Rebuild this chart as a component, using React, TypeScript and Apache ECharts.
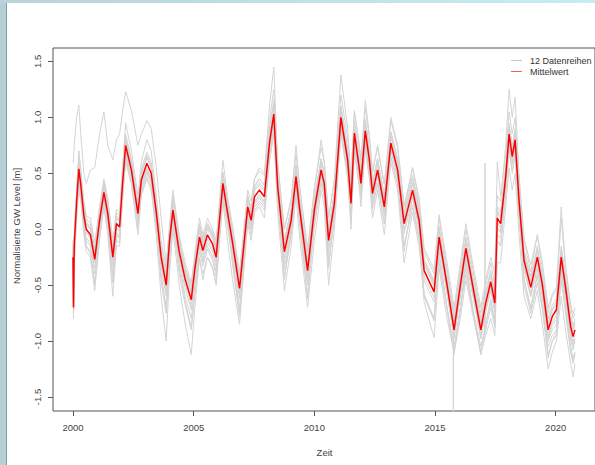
import React, { useEffect, useRef } from "react";
import * as echarts from "echarts";

const years = [
  2000.00, 2000.02, 2000.05, 2000.15, 2000.24, 2000.32, 2000.45, 2000.55, 2000.72, 2000.90,
  2001.10, 2001.28, 2001.44, 2001.65, 2001.80, 2001.93, 2002.05, 2002.18, 2002.42, 2002.69,
  2002.83, 2003.06, 2003.24, 2003.45, 2003.65, 2003.86, 2004.00, 2004.14, 2004.40, 2004.65,
  2004.90, 2005.05, 2005.24, 2005.38, 2005.57, 2005.78, 2005.93, 2006.21, 2006.40, 2006.61,
  2006.90, 2007.10, 2007.24, 2007.38, 2007.52, 2007.72, 2007.93, 2008.14, 2008.32, 2008.48,
  2008.76, 2009.04, 2009.24, 2009.38, 2009.72, 2010.00, 2010.28, 2010.41, 2010.59, 2010.83,
  2011.10, 2011.38, 2011.52, 2011.66, 2011.87, 2011.93, 2012.11, 2012.28, 2012.41, 2012.62,
  2012.90, 2013.17, 2013.45, 2013.72, 2014.07, 2014.34, 2014.55, 2014.96, 2015.17, 2015.50,
  2015.79, 2016.05, 2016.28, 2016.60, 2016.90, 2017.10, 2017.31, 2017.48, 2017.58, 2017.72,
  2017.93, 2018.07, 2018.20, 2018.32, 2018.48, 2018.69, 2018.97, 2019.24, 2019.45, 2019.69,
  2019.86, 2020.03, 2020.23, 2020.41, 2020.62, 2020.72, 2020.80,
];

const meanValues = [
  -0.25, -0.70, -0.15, 0.25, 0.54, 0.40, 0.12, 0.00, -0.05, -0.27,
  0.08, 0.33, 0.14, -0.25, 0.05, 0.02, 0.40, 0.75, 0.53, 0.14,
  0.44, 0.59, 0.50, 0.15, -0.25, -0.50, -0.10, 0.17, -0.20, -0.45,
  -0.63, -0.35, -0.07, -0.19, -0.05, -0.13, -0.25, 0.41, 0.15, -0.12,
  -0.53, -0.10, 0.20, 0.08, 0.29, 0.35, 0.29, 0.77, 1.03, 0.38,
  -0.20, 0.08, 0.47, 0.20, -0.37, 0.17, 0.53, 0.41, -0.10, 0.23,
  1.00, 0.62, 0.23, 0.86, 0.53, 0.41, 0.88, 0.62, 0.32, 0.53,
  0.20, 0.77, 0.53, 0.05, 0.35, 0.08, -0.37, -0.56, -0.07, -0.50,
  -0.90, -0.50, -0.17, -0.55, -0.90, -0.66, -0.47, -0.66, 0.10, 0.05,
  0.47, 0.85, 0.65, 0.80, 0.26, -0.28, -0.52, -0.25, -0.50, -0.90,
  -0.78, -0.72, -0.25, -0.52, -0.87, -0.96, -0.90,
];

const series01 = [
  0.59, 0.62, 0.75, 1.00, 1.11, 0.85, 0.50, 0.41, 0.53, 0.55,
  0.85, 1.05, 0.75, 0.62, 0.80, 0.85, 1.05, 1.23, 1.06, 0.75,
  0.85, 0.97, 0.90, 0.55, 0.10, -0.30, 0.00, 0.30, -0.10, -0.35,
  -0.50, -0.25, 0.05, -0.08, 0.05, -0.03, -0.15, 0.50, 0.25, -0.02,
  -0.45, 0.00, 0.30, 0.18, 0.38, 0.45, 0.40, 0.90, 1.15, 0.50,
  -0.10, 0.18, 0.58, 0.30, -0.27, 0.27, 0.63, 0.50, 0.00, 0.33,
  1.10, 0.72, 0.33, 0.95, 0.63, 0.50, 0.98, 0.72, 0.42, 0.63,
  0.30, 0.87, 0.63, 0.15, 0.45, 0.18, -0.27, -0.46, 0.03, -0.40,
  -0.80, -0.40, -0.07, -0.45, -0.80, -0.56, -0.37, -0.56, 0.20, 0.15,
  0.57, 0.95, 0.75, 0.90, 0.36, -0.18, -0.42, -0.15, -0.40, -0.80,
  -0.68, -0.62, -0.15, -0.42, -0.77, -0.86, -0.80,
];

const series02 = [
  -0.10, -0.50, 0.00, 0.35, 0.70, 0.55, 0.25, 0.12, 0.10, -0.12,
  0.20, 0.45, 0.28, -0.10, 0.18, 0.15, 0.55, 0.95, 0.70, 0.30,
  0.60, 0.80, 0.70, 0.30, -0.10, -0.35, 0.05, 0.35, -0.05, -0.30,
  -0.48, -0.20, 0.10, -0.05, 0.10, 0.00, -0.10, 0.62, 0.30, 0.03,
  -0.38, 0.05, 0.35, 0.25, 0.45, 0.55, 0.50, 1.10, 1.45, 0.60,
  0.00, 0.25, 0.75, 0.40, -0.20, 0.35, 0.80, 0.60, 0.10, 0.45,
  1.38, 0.90, 0.45, 1.05, 0.75, 0.60, 1.15, 0.85, 0.50, 0.75,
  0.40, 1.00, 0.75, 0.20, 0.55, 0.25, -0.20, -0.40, 0.10, -0.35,
  -0.75, -0.35, 0.00, -0.40, -0.75, -0.50, -0.30, -0.50, 0.30, 0.25,
  0.75, 1.25, 1.00, 1.18, 0.50, -0.10, -0.38, -0.05, -0.35, -0.75,
  -0.60, -0.55, 0.10, -0.35, -0.70, -0.80, -0.75,
];

const series03 = [
  -0.35, -0.75, -0.30, 0.10, 0.35, 0.25, -0.05, -0.20, -0.25, -0.55,
  -0.10, 0.20, -0.05, -0.60, -0.15, -0.15, 0.25, 0.60, 0.40, -0.05,
  0.30, 0.45, 0.35, -0.05, -0.60, -1.00, -0.40, 0.00, -0.50, -0.85,
  -1.12, -0.70, -0.25, -0.45, -0.25, -0.35, -0.50, 0.25, -0.10, -0.45,
  -0.85, -0.30, 0.05, -0.10, 0.15, 0.20, 0.10, 0.60, 0.85, 0.15,
  -0.55, -0.15, 0.30, -0.05, -0.70, -0.10, 0.35, 0.20, -0.50, 0.00,
  0.85, 0.45, 0.00, 0.70, 0.35, 0.20, 0.70, 0.45, 0.10, 0.35,
  -0.05, 0.60, 0.35, -0.30, 0.15, -0.15, -0.60, -0.80, -0.25, -0.70,
  -1.05, -0.70, -0.35, -0.75, -1.05, -0.85, -0.65, -0.85, -0.10, -0.15,
  0.30, 0.70, 0.50, 0.65, 0.10, -0.45, -0.70, -0.40, -0.70, -1.05,
  -0.95, -0.90, -0.40, -0.70, -1.05, -1.15, -1.10,
];

const series04 = [
  -0.30, -0.72, -0.20, 0.15, 0.45, 0.32, 0.05, -0.10, -0.15, -0.40,
  -0.05, 0.25, 0.05, -0.40, -0.05, -0.08, 0.30, 0.65, 0.45, 0.05,
  0.35, 0.50, 0.42, 0.05, -0.40, -0.70, -0.25, 0.08, -0.32, -0.60,
  -0.80, -0.50, -0.15, -0.30, -0.15, -0.25, -0.38, 0.32, 0.05, -0.25,
  -0.70, -0.20, 0.10, 0.00, 0.20, 0.25, 0.20, 0.65, 0.90, 0.28,
  -0.35, -0.05, 0.35, 0.10, -0.50, 0.05, 0.42, 0.30, -0.30, 0.10,
  0.90, 0.50, 0.10, 0.75, 0.42, 0.30, 0.75, 0.50, 0.20, 0.40,
  0.05, 0.65, 0.40, -0.15, 0.20, -0.10, -0.65, -0.97, -0.35, -0.80,
  -1.10, -0.80, -0.45, -0.80, -1.10, -0.95, -0.80, -0.95, -0.30, -0.30,
  0.20, 0.55, 0.35, 0.50, -0.05, -0.60, -0.80, -0.55, -0.85, -1.25,
  -1.10, -1.00, -0.60, -0.90, -1.20, -1.32, -1.20,
];

const series05 = [
  -0.20, -0.60, -0.10, 0.30, 0.60, 0.45, 0.18, 0.05, 0.00, -0.20,
  0.12, 0.38, 0.20, -0.18, 0.10, 0.08, 0.45, 0.80, 0.58, 0.20,
  0.50, 0.65, 0.55, 0.20, -0.20, -0.45, -0.05, 0.22, -0.15, -0.40,
  -0.58, -0.30, -0.02, -0.15, 0.00, -0.08, -0.20, 0.46, 0.20, -0.07,
  -0.48, -0.05, 0.25, 0.13, 0.34, 0.40, 0.34, 0.82, 1.08, 0.43,
  -0.15, 0.13, 0.52, 0.25, -0.32, 0.22, 0.58, 0.46, -0.05, 0.28,
  1.05, 0.67, 0.28, 0.91, 0.58, 0.46, 0.93, 0.67, 0.37, 0.58,
  0.25, 0.82, 0.58, 0.10, 0.40, 0.13, -0.32, -0.51, -0.02, -0.45,
  -0.85, -0.45, -0.12, -0.50, -0.85, -0.61, -0.42, -0.61, 0.15, 0.10,
  0.52, 0.90, 0.70, 0.85, 0.31, -0.23, -0.47, -0.20, -0.45, -0.85,
  -0.73, -0.67, -0.20, -0.47, -0.82, -0.91, -0.85,
];

const series06 = [
  -0.32, -0.74, -0.22, 0.18, 0.46, 0.33, 0.05, -0.08, -0.12, -0.35,
  0.00, 0.26, 0.06, -0.33, -0.03, -0.06, 0.32, 0.68, 0.46, 0.06,
  0.37, 0.52, 0.43, 0.07, -0.33, -0.60, -0.18, 0.10, -0.28, -0.53,
  -0.72, -0.43, -0.14, -0.27, -0.12, -0.20, -0.33, 0.34, 0.08, -0.20,
  -0.62, -0.18, 0.13, 0.00, 0.22, 0.28, 0.22, 0.70, 0.95, 0.30,
  -0.30, 0.00, 0.40, 0.12, -0.46, 0.10, 0.46, 0.33, -0.20, 0.15,
  0.92, 0.55, 0.15, 0.79, 0.46, 0.33, 0.80, 0.55, 0.24, 0.46,
  0.12, 0.70, 0.46, -0.04, 0.28, 0.00, -0.46, -0.65, -0.15, -0.58,
  -0.98, -0.58, -0.25, -0.63, -0.98, -0.74, -0.55, -0.74, 0.02, -0.03,
  0.40, 0.78, 0.58, 0.72, 0.18, -0.36, -0.60, -0.33, -0.58, -0.98,
  -0.86, -0.80, -0.33, -0.60, -0.95, -1.04, -0.98,
];

const series07 = [
  -0.20, -0.65, -0.10, 0.30, 0.58, 0.45, 0.17, 0.05, 0.00, -0.22,
  0.13, 0.38, 0.19, -0.20, 0.10, 0.07, 0.45, 0.80, 0.58, 0.19,
  0.49, 0.64, 0.55, 0.20, -0.20, -0.45, -0.05, 0.25, -0.12, -0.37,
  -0.55, -0.27, 0.01, -0.11, 0.03, -0.05, -0.17, 0.50, 0.23, -0.04,
  -0.45, -0.02, 0.28, 0.20, 0.45, 0.52, 0.48, 0.97, 1.25, 0.58,
  0.00, 0.28, 0.67, 0.40, -0.17, 0.37, 0.73, 0.61, 0.10, 0.43,
  1.20, 0.82, 0.43, 1.06, 0.73, 0.61, 1.08, 0.82, 0.52, 0.73,
  0.40, 0.97, 0.73, 0.22, 0.48, 0.20, -0.28, -0.48, -0.12, -0.55,
  -0.95, -0.60, -0.28, -0.62, -0.95, -0.72, -0.55, -0.72, 0.00, -0.02,
  0.38, 0.80, 0.60, 0.75, 0.20, -0.35, -0.60, -0.35, -0.62, -1.00,
  -0.90, -0.85, -0.35, -0.62, -0.98, -1.08, -1.00,
];

const series08 = [
  -0.40, -0.78, -0.30, 0.12, 0.42, 0.28, 0.00, -0.15, -0.20, -0.48,
  -0.05, 0.21, 0.00, -0.48, -0.10, -0.12, 0.28, 0.63, 0.41, 0.00,
  0.32, 0.47, 0.38, 0.00, -0.45, -0.75, -0.25, 0.05, -0.35, -0.65,
  -0.88, -0.55, -0.20, -0.33, -0.18, -0.27, -0.42, 0.29, 0.02, -0.28,
  -0.75, -0.25, 0.08, -0.05, 0.17, 0.23, 0.17, 0.65, 0.91, 0.24,
  -0.42, -0.06, 0.35, 0.06, -0.60, 0.03, 0.41, 0.28, -0.32, 0.10,
  0.88, 0.50, 0.08, 0.74, 0.41, 0.28, 0.76, 0.50, 0.18, 0.41,
  0.05, 0.65, 0.41, -0.15, 0.22, -0.07, -0.58, -0.80, -0.20, -0.70,
  -1.12, -0.70, -0.30, -0.75, -1.12, -0.85, -0.62, -0.82, -0.05, -0.08,
  0.35, 0.73, 0.53, 0.68, 0.12, -0.45, -0.72, -0.42, -0.70, -1.12,
  -1.00, -0.92, -0.42, -0.70, -1.08, -1.18, -1.10,
];

const series09 = [
  -0.18, -0.66, -0.08, 0.32, 0.62, 0.47, 0.20, 0.07, 0.02, -0.20,
  0.15, 0.40, 0.22, -0.18, 0.12, 0.09, 0.47, 0.82, 0.60, 0.22,
  0.51, 0.66, 0.57, 0.22, -0.18, -0.42, -0.03, 0.24, -0.12, -0.38,
  -0.55, -0.28, 0.00, -0.12, 0.02, -0.06, -0.18, 0.48, 0.22, -0.05,
  -0.46, -0.03, 0.27, 0.15, 0.36, 0.42, 0.36, 0.84, 1.10, 0.45,
  -0.13, 0.15, 0.54, 0.27, -0.30, 0.24, 0.60, 0.48, -0.03, 0.30,
  1.07, 0.69, 0.30, 0.93, 0.60, 0.48, 0.95, 0.69, 0.39, 0.60,
  0.27, 0.84, 0.60, 0.12, 0.42, 0.15, -0.30, -0.49, 0.00, -0.43,
  -0.83, -0.43, -0.10, -0.48, -0.83, -0.59, -0.40, -0.59, 0.17, 0.12,
  0.54, 0.92, 0.72, 0.87, 0.33, -0.21, -0.45, -0.18, -0.43, -0.83,
  -0.71, -0.65, -0.18, -0.45, -0.80, -0.89, -0.83,
];

const series10 = [
  -0.28, -0.70, -0.20, 0.20, 0.50, 0.38, 0.10, -0.03, -0.08, -0.30,
  0.04, 0.30, 0.10, -0.29, 0.01, -0.02, 0.36, 0.71, 0.49, 0.10,
  0.40, 0.55, 0.46, 0.11, -0.29, -0.56, -0.14, 0.13, -0.24, -0.49,
  -0.68, -0.39, -0.11, -0.23, -0.09, -0.17, -0.29, 0.37, 0.11, -0.16,
  -0.58, -0.14, 0.16, 0.04, 0.25, 0.31, 0.25, 0.73, 0.99, 0.34,
  -0.25, 0.04, 0.43, 0.16, -0.42, 0.13, 0.49, 0.37, -0.15, 0.19,
  0.96, 0.58, 0.19, 0.82, 0.49, 0.37, 0.84, 0.58, 0.28, 0.49,
  0.16, 0.73, 0.49, 0.00, 0.31, 0.04, -0.42, -0.61, -0.11, -0.55,
  -0.95, -0.55, -0.21, -0.60, -0.95, -0.71, -0.52, -0.71, 0.06, 0.01,
  0.43, 0.81, 0.61, 0.76, 0.22, -0.33, -0.57, -0.30, -0.55, -0.95,
  -0.83, -0.77, -0.30, -0.57, -0.92, -1.01, -0.95,
];

const series11 = [
  -0.15, -0.60, -0.05, 0.35, 0.64, 0.50, 0.22, 0.10, 0.05, -0.17,
  0.18, 0.43, 0.24, -0.15, 0.15, 0.12, 0.50, 0.85, 0.63, 0.24,
  0.54, 0.69, 0.60, 0.25, -0.15, -0.40, 0.00, 0.27, -0.10, -0.35,
  -0.53, -0.25, 0.03, -0.09, 0.05, -0.03, -0.15, 0.51, 0.25, -0.02,
  -0.43, 0.00, 0.30, 0.18, 0.39, 0.45, 0.39, 0.87, 1.13, 0.48,
  -0.10, 0.18, 0.57, 0.30, -0.27, 0.27, 0.63, 0.51, 0.00, 0.33,
  1.10, 0.72, 0.33, 0.96, 0.63, 0.51, 0.98, 0.72, 0.42, 0.63,
  0.30, 0.87, 0.63, 0.15, 0.55, 0.28, -0.17, -0.36, 0.13, -0.30,
  -0.70, -0.30, 0.05, -0.35, -0.70, -0.46, -0.25, -0.40, 0.60, 0.30,
  0.67, 1.05, 0.85, 1.00, 0.46, -0.08, -0.32, -0.05, -0.30, -0.70,
  -0.58, -0.52, 0.20, -0.32, -0.67, -0.76, -0.70,
];

const series12 = [
  -0.45, -0.80, -0.30, 0.20, 0.49, 0.35, 0.07, -0.15, -0.22, -0.50,
  0.00, 0.28, 0.09, -0.48, -0.05, -0.08, 0.35, 0.70, 0.48, 0.09,
  0.39, 0.54, 0.45, 0.10, -0.45, -0.75, -0.30, 0.12, -0.40, -0.68,
  -0.90, -0.58, -0.27, -0.40, -0.25, -0.33, -0.48, 0.36, 0.10, -0.32,
  -0.78, -0.30, 0.15, 0.03, 0.24, 0.30, 0.24, 0.72, 0.98, 0.33,
  -0.45, 0.00, 0.42, 0.15, -0.62, 0.12, 0.48, 0.36, -0.35, 0.18,
  0.95, 0.57, 0.18, 0.81, 0.48, 0.36, 0.83, 0.57, 0.27, 0.48,
  0.15, 0.72, 0.48, -0.20, 0.30, 0.00, -0.60, -0.82, -0.30, -0.72,
  -1.10, -0.72, -0.40, -0.78, -1.12, -0.90, -0.70, -0.88, -0.10, -0.15,
  0.42, 0.80, 0.60, 0.75, 0.20, -0.50, -0.75, -0.48, -0.72, -1.15,
  -1.00, -0.95, -0.45, -0.75, -1.10, -1.20, -1.12,
];

// single-sample outliers (spikes) seen in two of the series
const spikeYears05 = [2015.757, 2015.76, 2015.763];
const spikeValues05 = [-0.85, -1.8, -0.85];
const spikeYears12 = [2017.067, 2017.07, 2017.073];
const spikeValues12 = [-0.95, 0.59, -0.93];

const xTicks = [2000, 2005, 2010, 2015, 2020];
const yTicks = [-1.5, -1.0, -0.5, 0.0, 0.5, 1.0, 1.5];

const grayName = "12 Datenreihen";
const meanName = "Mittelwert";
const xTitle = "Zeit";
const yTitle = "Normalisierte GW Level [m]";

const FONT = "'Liberation Sans', Arial, sans-serif";

function toPairs(xs: number[], ys: number[], ex: number[] = [], ey: number[] = []) {
  const pts: number[][] = xs.map((x, i) => [x, ys[i]]);
  ex.forEach((x, i) => pts.push([x, ey[i]]));
  pts.sort((a, b) => a[0] - b[0]);
  return pts;
}

export default function App() {
  const ref = useRef<HTMLDivElement>(null);

  useEffect(() => {
    if (!ref.current) return;
    const chart = echarts.init(ref.current, undefined, { renderer: "svg" });

    const grayData = [
      toPairs(years, series01),
      toPairs(years, series02),
      toPairs(years, series03),
      toPairs(years, series04),
      toPairs(years, series05, spikeYears05, spikeValues05),
      toPairs(years, series06),
      toPairs(years, series07),
      toPairs(years, series08),
      toPairs(years, series09),
      toPairs(years, series10),
      toPairs(years, series11),
      toPairs(years, series12, spikeYears12, spikeValues12),
    ];

    const series: any[] = grayData.map((d) => ({
      type: "line",
      name: grayName,
      data: d,
      symbol: "none",
      showSymbol: false,
      silent: true,
      clip: true,
      lineStyle: { color: "#d4d4d4", width: 1 },
      itemStyle: { color: "#d4d4d4" },
      z: 2,
    }));
    series.push({
      type: "line",
      name: meanName,
      data: toPairs(years, meanValues),
      symbol: "none",
      showSymbol: false,
      silent: true,
      clip: true,
      lineStyle: { color: "#ff0000", width: 1.5 },
      itemStyle: { color: "#ff0000" },
      z: 3,
    });

    chart.setOption({
      animation: false,
      backgroundColor: "#ffffff",
      textStyle: { fontFamily: FONT },
      grid: {
        left: 53,
        top: 48,
        width: 543,
        height: 363,
        show: true,
        borderColor: "#555",
        borderWidth: 1,
        backgroundColor: "transparent",
      },
      legend: {
        data: [
          { name: grayName, itemStyle: { color: "#c8c8c8" } },
          { name: meanName, itemStyle: { color: "#ff5a5a" } },
        ],
        orient: "vertical",
        left: 511,
        top: 55,
        padding: 0,
        icon: "rect",
        itemWidth: 11,
        itemHeight: 1,
        itemGap: 0,
        selectedMode: false,
        textStyle: { fontSize: 9, color: "#333", fontFamily: FONT, padding: [0, 0, 0, 3], lineHeight: 11 },
      },
      xAxis: {
        type: "value",
        min: 1999.17,
        max: 2021.63,
        splitLine: { show: false },
        axisLine: { show: false, onZero: false },
        axisTick: { show: true, length: 5, customValues: xTicks, lineStyle: { color: "#555" } },
        axisLabel: {
          customValues: xTicks,
          margin: 11,
          fontSize: 9.5,
          color: "#444",
          fontFamily: FONT,
          formatter: (v: number) => String(Math.round(v)),
        },
      },
      yAxis: {
        type: "value",
        min: -1.625,
        max: 1.62,
        splitLine: { show: false },
        axisLine: { show: false, onZero: false },
        axisTick: { show: true, length: 5, customValues: yTicks, lineStyle: { color: "#555" } },
        axisLabel: {
          customValues: yTicks,
          rotate: 90,
          margin: 11,
          fontSize: 9.5,
          color: "#444",
          fontFamily: FONT,
          formatter: (v: number) => v.toFixed(1),
        },
      },
      graphic: [
        { type: "rect", shape: { x: 0, y: 0, width: 6, height: 465 }, style: { fill: "#b5cfd5" }, silent: true },
        { type: "rect", shape: { x: 6, y: 0, width: 1, height: 465 }, style: { fill: "#7e9fa7" }, silent: true },
        {
          type: "rect",
          shape: { x: 0, y: 0, width: 595, height: 3 },
          style: {
            fill: new echarts.graphic.LinearGradient(0, 0, 1, 0, [
              { offset: 0, color: "#b9d3d9" },
              { offset: 1, color: "#c4eef4" },
            ]),
          },
          silent: true,
        },
        {
          type: "text",
          x: 16,
          y: 226,
          rotation: Math.PI / 2,
          style: { text: yTitle, fontSize: 9.5, fill: "#444", align: "center", verticalAlign: "middle", fontFamily: FONT },
          silent: true,
        },
        {
          type: "text",
          x: 324.5,
          y: 452,
          style: { text: xTitle, fontSize: 9.5, fill: "#444", align: "center", verticalAlign: "middle", fontFamily: FONT },
          silent: true,
        },
      ],
      series,
    });

    return () => chart.dispose();
  }, []);

  return (
    <div
      ref={ref}
      style={{ position: "fixed", left: 0, top: 0, width: 595, height: 465, background: "#fff" }}
    />
  );
}
